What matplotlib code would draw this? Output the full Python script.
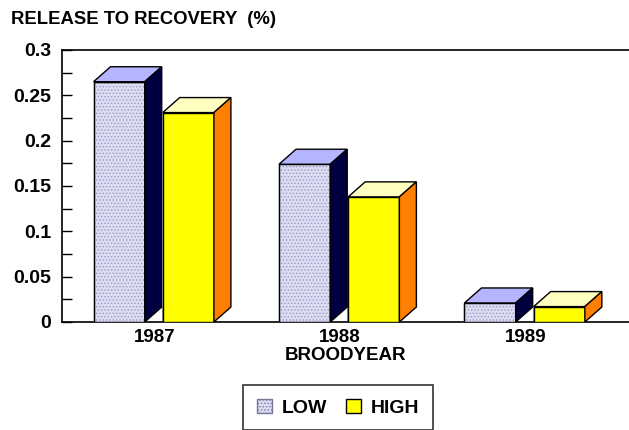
import matplotlib.pyplot as plt
from matplotlib.patches import Polygon, Patch

years = ["1987", "1988", "1989"]
low = [0.265, 0.174, 0.021]
high = [0.231, 0.138, 0.017]
yticks = [0, 0.05, 0.1, 0.15, 0.2, 0.25, 0.3]

plt.rcParams["font.family"] = ["Liberation Sans", "DejaVu Sans"]
plt.rcParams["hatch.linewidth"] = 0.6

fig = plt.figure(figsize=(6.29, 4.30), dpi=100)
ax = fig.add_axes([62 / 629, 108 / 430, 567 / 629, 272 / 430])

xlim = (-0.5, 2.557)
ylim = (0, 0.3)
ax.set_xlim(*xlim)
ax.set_ylim(*ylim)

# depth of the fake 3d bars, in data units
dx = 17 / 567 * (xlim[1] - xlim[0])
dy = 15 / 272 * (ylim[1] - ylim[0])
w = 0.276

styles = [
    dict(vals=low, off=-0.33, front="#dcdcf2", top="#b4b4ff", side="#000040", hatch="....."),
    dict(vals=high, off=0.043, front="#ffff00", top="#ffffc0", side="#ff8000", hatch=None),
]

for st in styles:
    for i, v in enumerate(st["vals"]):
        x0 = i + st["off"]
        x1 = x0 + w
        ax.bar(x0, v, width=w, align="edge", color=st["front"], edgecolor="#9a9ac4" if st["hatch"] else "black",
               linewidth=1, hatch=st["hatch"], zorder=3)
        if st["hatch"]:
            # black outline on top of the hatched face
            ax.bar(x0, v, width=w, align="edge", fill=False, edgecolor="black", linewidth=1, zorder=4)
        top = Polygon([(x0, v), (x0 + dx, v + dy), (x1 + dx, v + dy), (x1, v)],
                      closed=True, facecolor=st["top"], edgecolor="black", linewidth=1, zorder=4)
        side = Polygon([(x1, 0), (x1, v), (x1 + dx, v + dy), (x1 + dx, dy)],
                       closed=True, facecolor=st["side"], edgecolor="black", linewidth=1, zorder=4)
        ax.add_patch(top)
        ax.add_patch(side)

# faint floor lines between the bars
for i in range(3):
    xa = i - 0.33 + w + dx
    ax.plot([xa, xa], [0, dy], color="#999999", lw=0.8, zorder=2)
    ax.plot([i + 0.043, i + 0.043], [0, dy * 0.9], color="#999999", lw=0.8, zorder=2)

ax.set_xticks(range(3))
ax.set_xticklabels(years, fontsize=13.5, fontweight="bold")
ax.set_yticks(yticks)
ax.set_yticklabels(["0", "0.05", "0.1", "0.15", "0.2", "0.25", "0.3"], fontsize=14, fontweight="bold")
ax.set_yticks([0.025, 0.075, 0.125, 0.175, 0.225, 0.275], minor=True)
ax.tick_params(axis="x", length=0, pad=5)
ax.tick_params(axis="y", which="both", direction="in", length=7, width=1, pad=8)

for s in ["left", "bottom", "top"]:
    ax.spines[s].set_linewidth(1.2)
ax.spines["right"].set_visible(False)

ax.set_xlabel("BROODYEAR", fontsize=13.5, fontweight="bold", labelpad=1)
fig.text(11 / 629, 1 - 20 / 430, "RELEASE TO RECOVERY  (%)", fontsize=13.3,
         fontweight="bold", va="center", ha="left")

handles = [
    Patch(facecolor="#dcdcf2", edgecolor="#777799", hatch=".....", linewidth=1),
    Patch(facecolor="#ffff00", edgecolor="black", linewidth=1),
]
leg = fig.legend(handles, ["LOW", "HIGH"], loc="upper center",
                 bbox_to_anchor=(338 / 629, 1 - 385 / 430), ncol=2,
                 prop={"weight": "bold", "size": 14}, frameon=True, fancybox=False,
                 edgecolor="black", handlelength=0.75, handleheight=0.75,
                 handletextpad=0.5, columnspacing=1.0, borderpad=0.7, borderaxespad=0)
leg.get_frame().set_linewidth(1.2)

fig.savefig("out.png", dpi=100)
